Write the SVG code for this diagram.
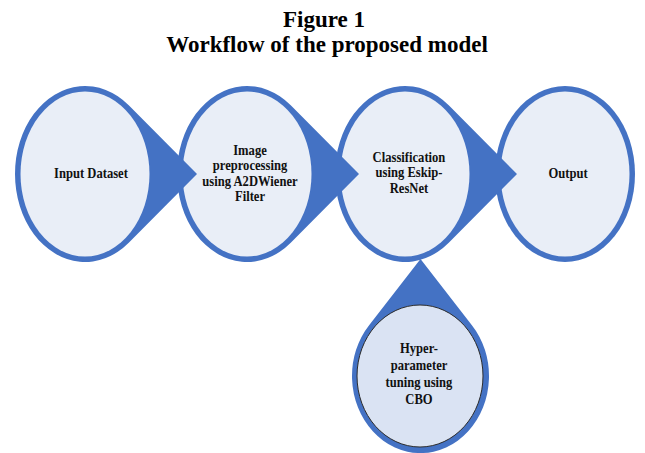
<svg xmlns="http://www.w3.org/2000/svg" width="645" height="453" viewBox="0 0 645 453">
  <style>
    .drop { fill: #4472C4; }
    .face { fill: #E9EEF7; }
    .face-alt { fill: #DAE3F3; stroke: #2B2B2B; stroke-width: 1; }
    .title { font-family: "Liberation Serif", "Times New Roman", serif; font-weight: bold; font-size: 23px; fill: #000; text-anchor: middle; }
    .label { font-family: "Liberation Serif", "Times New Roman", serif; font-weight: bold; font-size: 15px; fill: #111; text-anchor: middle; }
  </style>
  <rect width="645" height="453" fill="#FFFFFF"/>

  <g id="title">
    <text class="title" x="324" y="27">Figure 1</text>
    <text class="title" x="327" y="52">Workflow of the proposed model</text>
  </g>

  <!-- the teardrop tips act as the connectors; they are drawn as part of each node -->
  <g id="connectors"></g>

  <!-- drawn back to front so each tip overlaps the next node -->
  <g id="node-tuning">
    <path class="drop" d="M369.3,324.9 L420.5,259 L471.7,324.9 A68.5,77 0 1 1 369.3,324.9 Z"/>
    <ellipse class="face-alt" cx="420" cy="376" rx="63" ry="71"/>
    <g transform="translate(419,0) scale(0.84,1)">
      <text class="label" x="0" y="353">Hyper-</text>
      <text class="label" x="0" y="370">parameter</text>
      <text class="label" x="0" y="387">tuning using</text>
      <text class="label" x="0" y="404">CBO</text>
    </g>
  </g>

  <g id="node-output">
    <ellipse class="drop" cx="565" cy="174" rx="70" ry="88"/>
    <ellipse class="face" cx="565" cy="174" rx="64.5" ry="82.5"/>
    <g transform="translate(568,0) scale(0.84,1)">
      <text class="label" x="0" y="178">Output</text>
    </g>
  </g>

  <g id="node-classification">
    <path class="drop" d="M448.75,105.3 L517,174 L448.75,242.7 A70,88 0 1 1 448.75,105.3 Z"/>
    <ellipse class="face" cx="405" cy="174" rx="64.5" ry="82.5"/>
    <g transform="translate(409,0) scale(0.84,1)">
      <text class="label" x="0" y="162">Classification</text>
      <text class="label" x="0" y="177">using Eskip-</text>
      <text class="label" x="0" y="193">ResNet</text>
    </g>
  </g>

  <g id="node-preprocessing">
    <path class="drop" d="M290.75,105.3 L359,174 L290.75,242.7 A70,88 0 1 1 290.75,105.3 Z"/>
    <ellipse class="face" cx="247" cy="174" rx="64.5" ry="82.5"/>
    <g transform="translate(250,0) scale(0.84,1)">
      <text class="label" x="0" y="155">Image</text>
      <text class="label" x="0" y="170">preprocessing</text>
      <text class="label" x="0" y="186">using A2DWiener</text>
      <text class="label" x="0" y="201">Filter</text>
    </g>
  </g>

  <g id="node-input">
    <path class="drop" d="M128.75,105.3 L197,174 L128.75,242.7 A70,88 0 1 1 128.75,105.3 Z"/>
    <ellipse class="face" cx="85" cy="174" rx="64.5" ry="82.5"/>
    <g transform="translate(91,0) scale(0.84,1)">
      <text class="label" x="0" y="178">Input Dataset</text>
    </g>
  </g>
</svg>
